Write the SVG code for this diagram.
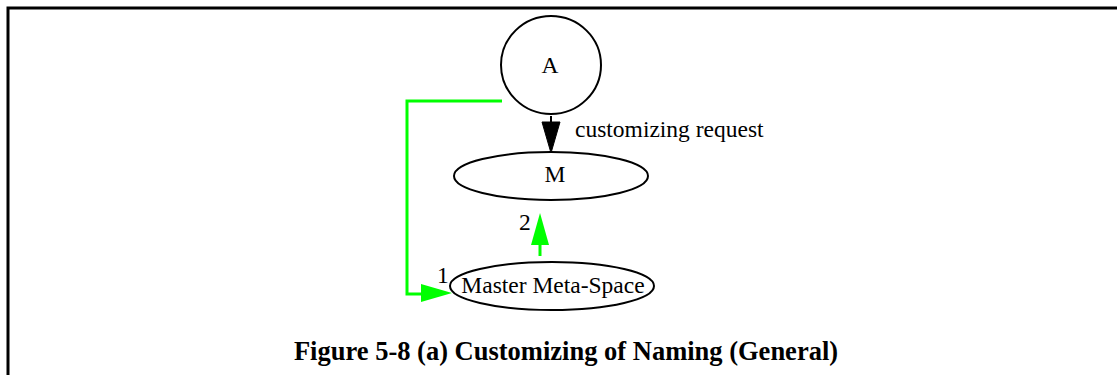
<svg xmlns="http://www.w3.org/2000/svg" width="1117" height="375" viewBox="0 0 1117 375">
<style>
.node{fill:none;stroke:#000;stroke-width:2}
.lbl{font-family:"Liberation Serif","Times New Roman",serif;font-size:23.5px;fill:#000}
.green{fill:none;stroke:#00ff00;stroke-width:3}
.gh{fill:#00ff00;stroke:none}
.title{font-family:"Liberation Serif","Times New Roman",serif;font-size:26.5px;font-weight:bold;fill:#000}
</style>
<rect width="1117" height="375" fill="#fff"/>
<path d="M8,375 V8 H1117" fill="none" stroke="#000" stroke-width="3"/>
<g id="connectors">
<g id="e-A-M">
<path d="M551,116 V122" fill="none" stroke="#000" stroke-width="2"/>
<path d="M542,122 L560,122 L551,153 Z" fill="#000" stroke="#000" stroke-width="1"/>
<text class="lbl" x="575" y="137">customizing request</text>
</g>
<g id="e-A-MMS">
<path class="green" d="M502,101 H407 V294 H423"/>
<path class="gh" d="M421,284 L452,293 L421,302 Z"/>
<text class="lbl" x="437" y="283">1</text>
</g>
<g id="e-MMS-M">
<path class="green" d="M540,256 V244"/>
<path class="gh" d="M531,245 L549,245 L540,213 Z"/>
<text class="lbl" x="519" y="230">2</text>
</g>
</g>
<g id="node-A">
<ellipse class="node" cx="551" cy="65" rx="50" ry="49"/>
<text class="lbl" x="550" y="73" text-anchor="middle">A</text>
</g>
<g id="node-M">
<ellipse class="node" cx="551" cy="176" rx="97" ry="24"/>
<text class="lbl" x="555" y="182" text-anchor="middle">M</text>
</g>
<g id="node-MMS">
<ellipse class="node" cx="552" cy="286" rx="102" ry="24"/>
<text class="lbl" x="553" y="293" text-anchor="middle">Master Meta-Space</text>
</g>
<text class="title" x="566" y="360" text-anchor="middle">Figure 5-8 (a) Customizing of Naming (General)</text>
</svg>
